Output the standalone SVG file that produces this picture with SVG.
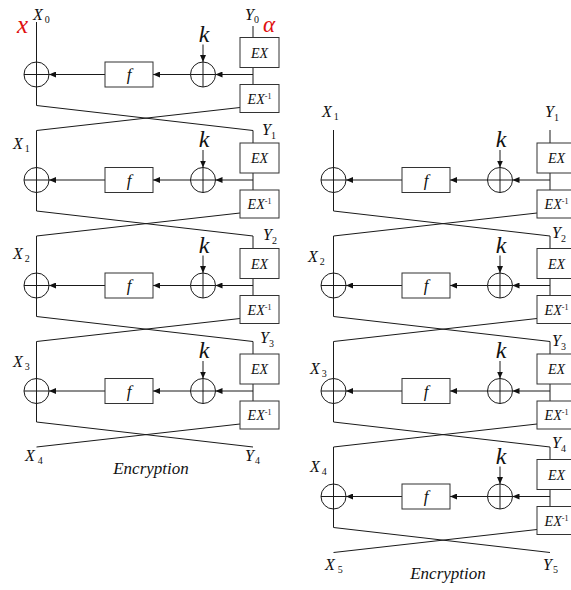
<svg xmlns="http://www.w3.org/2000/svg" width="571" height="590" viewBox="0 0 571 590">
<style>
.ln{fill:none;stroke:#1a1a1a;stroke-width:1}
.bx{fill:#fff;stroke:#333;stroke-width:1}
.xo{fill:none;stroke:#1a1a1a;stroke-width:1}
text{font-family:'Liberation Serif','Times New Roman','DejaVu Serif',serif;font-style:italic;fill:#111}
.lb{font-size:16px}
.sb{font-size:10px;font-style:normal}
.ex{font-size:14px;text-anchor:middle}
.sp{font-size:8px;font-style:normal}
.fn{font-size:17px;text-anchor:middle}
.k{font-size:24px;text-anchor:middle}
.red{fill:#e01010}
</style>
<defs>
<marker id="ah" markerUnits="userSpaceOnUse" markerWidth="7" markerHeight="6" refX="7" refY="3" orient="auto">
<path d="M0,0 L7,3 L0,6 z" fill="#111"/>
</marker>
</defs>

<g id="connectors">
<polyline class="ln" points="36.5,22 36.5,105.5 253,130.5 253,143"/>
<polyline class="ln" points="240,107.5 36.5,130.5 36.5,211 253,236 253,248.5"/>
<line class="ln" x1="253" y1="26" x2="253" y2="37.5"/>
<line class="ln" x1="253" y1="67.5" x2="253" y2="84.5"/>
<line class="ln" x1="253" y1="74.5" x2="215.5" y2="74.5" marker-end="url(#ah)"/>
<line class="ln" x1="190.5" y1="74.5" x2="153" y2="74.5" marker-end="url(#ah)"/>
<line class="ln" x1="105" y1="74.5" x2="49" y2="74.5" marker-end="url(#ah)"/>
<line class="ln" x1="203" y1="44.5" x2="203" y2="62" marker-end="url(#ah)"/>
<polyline class="ln" points="240,213 36.5,236 36.5,316.5 253,341.5 253,354"/>
<line class="ln" x1="253" y1="173" x2="253" y2="190"/>
<line class="ln" x1="253" y1="180" x2="215.5" y2="180" marker-end="url(#ah)"/>
<line class="ln" x1="190.5" y1="180" x2="153" y2="180" marker-end="url(#ah)"/>
<line class="ln" x1="105" y1="180" x2="49" y2="180" marker-end="url(#ah)"/>
<line class="ln" x1="203" y1="150" x2="203" y2="167.5" marker-end="url(#ah)"/>
<polyline class="ln" points="240,318.5 36.5,341.5 36.5,422 253,447"/>
<line class="ln" x1="253" y1="278.5" x2="253" y2="295.5"/>
<line class="ln" x1="253" y1="285.5" x2="215.5" y2="285.5" marker-end="url(#ah)"/>
<line class="ln" x1="190.5" y1="285.5" x2="153" y2="285.5" marker-end="url(#ah)"/>
<line class="ln" x1="105" y1="285.5" x2="49" y2="285.5" marker-end="url(#ah)"/>
<line class="ln" x1="203" y1="255.5" x2="203" y2="273" marker-end="url(#ah)"/>
<polyline class="ln" points="240,424 36.5,447"/>
<line class="ln" x1="253" y1="384" x2="253" y2="401"/>
<line class="ln" x1="253" y1="391" x2="215.5" y2="391" marker-end="url(#ah)"/>
<line class="ln" x1="190.5" y1="391" x2="153" y2="391" marker-end="url(#ah)"/>
<line class="ln" x1="105" y1="391" x2="49" y2="391" marker-end="url(#ah)"/>
<line class="ln" x1="203" y1="361" x2="203" y2="378.5" marker-end="url(#ah)"/>

<polyline class="ln" points="333.5,130 333.5,211 550,236 550,248.5"/>
<line class="ln" x1="550" y1="130" x2="550" y2="143"/>
<polyline class="ln" points="537,213 333.5,236 333.5,316.5 550,341.5 550,354"/>
<polyline class="ln" points="537,318.5 333.5,341.5 333.5,422 550,447 550,459.5"/>
<polyline class="ln" points="537,424 333.5,447 333.5,527.5 550,552.5"/>
<polyline class="ln" points="537,529.5 333.5,552.5"/>
<line class="ln" x1="550" y1="173" x2="550" y2="190"/>
<line class="ln" x1="550" y1="180" x2="512.5" y2="180" marker-end="url(#ah)"/>
<line class="ln" x1="487.5" y1="180" x2="450" y2="180" marker-end="url(#ah)"/>
<line class="ln" x1="402" y1="180" x2="346" y2="180" marker-end="url(#ah)"/>
<line class="ln" x1="500" y1="150" x2="500" y2="167.5" marker-end="url(#ah)"/>
<line class="ln" x1="550" y1="278.5" x2="550" y2="295.5"/>
<line class="ln" x1="550" y1="285.5" x2="512.5" y2="285.5" marker-end="url(#ah)"/>
<line class="ln" x1="487.5" y1="285.5" x2="450" y2="285.5" marker-end="url(#ah)"/>
<line class="ln" x1="402" y1="285.5" x2="346" y2="285.5" marker-end="url(#ah)"/>
<line class="ln" x1="500" y1="255.5" x2="500" y2="273" marker-end="url(#ah)"/>
<line class="ln" x1="550" y1="384" x2="550" y2="401"/>
<line class="ln" x1="550" y1="391" x2="512.5" y2="391" marker-end="url(#ah)"/>
<line class="ln" x1="487.5" y1="391" x2="450" y2="391" marker-end="url(#ah)"/>
<line class="ln" x1="402" y1="391" x2="346" y2="391" marker-end="url(#ah)"/>
<line class="ln" x1="500" y1="361" x2="500" y2="378.5" marker-end="url(#ah)"/>
<line class="ln" x1="550" y1="489.5" x2="550" y2="506.5"/>
<line class="ln" x1="550" y1="496.5" x2="512.5" y2="496.5" marker-end="url(#ah)"/>
<line class="ln" x1="487.5" y1="496.5" x2="450" y2="496.5" marker-end="url(#ah)"/>
<line class="ln" x1="402" y1="496.5" x2="346" y2="496.5" marker-end="url(#ah)"/>
<line class="ln" x1="500" y1="466.5" x2="500" y2="484" marker-end="url(#ah)"/>
</g>

<g id="L0-xor"><circle class="xo" cx="36.5" cy="74.5" r="12.5"/><line class="ln" x1="24" y1="74.5" x2="49" y2="74.5"/></g>
<g id="L0-f"><rect class="bx" x="105" y="62" width="48" height="25"/><text class="fn" x="129" y="80">f</text></g>
<g id="L0-kxor"><circle class="xo" cx="203" cy="74.5" r="12.5"/><line class="ln" x1="190.5" y1="74.5" x2="215.5" y2="74.5"/><line class="ln" x1="203" y1="62" x2="203" y2="87"/></g>
<g id="L0-k"><text class="k" x="204" y="41.5">k</text></g>
<g id="L0-ex"><rect class="bx" x="240" y="37.5" width="39" height="30"/><text class="ex" x="259.5" y="57.5">EX</text></g>
<g id="L0-exinv"><rect class="bx" x="240" y="84.5" width="39" height="28"/><text class="ex" x="259.5" y="103.5">EX<tspan class="sp" dy="-5">-1</tspan></text></g>

<g id="L1-xor"><circle class="xo" cx="36.5" cy="180" r="12.5"/><line class="ln" x1="24" y1="180" x2="49" y2="180"/></g>
<g id="L1-f"><rect class="bx" x="105" y="167.5" width="48" height="25"/><text class="fn" x="129" y="185.5">f</text></g>
<g id="L1-kxor"><circle class="xo" cx="203" cy="180" r="12.5"/><line class="ln" x1="190.5" y1="180" x2="215.5" y2="180"/><line class="ln" x1="203" y1="167.5" x2="203" y2="192.5"/></g>
<g id="L1-k"><text class="k" x="204" y="147">k</text></g>
<g id="L1-ex"><rect class="bx" x="240" y="143" width="39" height="30"/><text class="ex" x="259.5" y="163">EX</text></g>
<g id="L1-exinv"><rect class="bx" x="240" y="190" width="39" height="28"/><text class="ex" x="259.5" y="209">EX<tspan class="sp" dy="-5">-1</tspan></text></g>

<g id="L2-xor"><circle class="xo" cx="36.5" cy="285.5" r="12.5"/><line class="ln" x1="24" y1="285.5" x2="49" y2="285.5"/></g>
<g id="L2-f"><rect class="bx" x="105" y="273" width="48" height="25"/><text class="fn" x="129" y="291">f</text></g>
<g id="L2-kxor"><circle class="xo" cx="203" cy="285.5" r="12.5"/><line class="ln" x1="190.5" y1="285.5" x2="215.5" y2="285.5"/><line class="ln" x1="203" y1="273" x2="203" y2="298"/></g>
<g id="L2-k"><text class="k" x="204" y="252.5">k</text></g>
<g id="L2-ex"><rect class="bx" x="240" y="248.5" width="39" height="30"/><text class="ex" x="259.5" y="268.5">EX</text></g>
<g id="L2-exinv"><rect class="bx" x="240" y="295.5" width="39" height="28"/><text class="ex" x="259.5" y="314.5">EX<tspan class="sp" dy="-5">-1</tspan></text></g>

<g id="L3-xor"><circle class="xo" cx="36.5" cy="391" r="12.5"/><line class="ln" x1="24" y1="391" x2="49" y2="391"/></g>
<g id="L3-f"><rect class="bx" x="105" y="378.5" width="48" height="25"/><text class="fn" x="129" y="396.5">f</text></g>
<g id="L3-kxor"><circle class="xo" cx="203" cy="391" r="12.5"/><line class="ln" x1="190.5" y1="391" x2="215.5" y2="391"/><line class="ln" x1="203" y1="378.5" x2="203" y2="403.5"/></g>
<g id="L3-k"><text class="k" x="204" y="358">k</text></g>
<g id="L3-ex"><rect class="bx" x="240" y="354" width="39" height="30"/><text class="ex" x="259.5" y="374">EX</text></g>
<g id="L3-exinv"><rect class="bx" x="240" y="401" width="39" height="28"/><text class="ex" x="259.5" y="420">EX<tspan class="sp" dy="-5">-1</tspan></text></g>

<g id="R1-xor"><circle class="xo" cx="333.5" cy="180" r="12.5"/><line class="ln" x1="321" y1="180" x2="346" y2="180"/></g>
<g id="R1-f"><rect class="bx" x="402" y="167.5" width="48" height="25"/><text class="fn" x="426" y="185.5">f</text></g>
<g id="R1-kxor"><circle class="xo" cx="500" cy="180" r="12.5"/><line class="ln" x1="487.5" y1="180" x2="512.5" y2="180"/><line class="ln" x1="500" y1="167.5" x2="500" y2="192.5"/></g>
<g id="R1-k"><text class="k" x="501" y="147">k</text></g>
<g id="R1-ex"><rect class="bx" x="537" y="143" width="39" height="30"/><text class="ex" x="556.5" y="163">EX</text></g>
<g id="R1-exinv"><rect class="bx" x="537" y="190" width="39" height="28"/><text class="ex" x="556.5" y="209">EX<tspan class="sp" dy="-5">-1</tspan></text></g>

<g id="R2-xor"><circle class="xo" cx="333.5" cy="285.5" r="12.5"/><line class="ln" x1="321" y1="285.5" x2="346" y2="285.5"/></g>
<g id="R2-f"><rect class="bx" x="402" y="273" width="48" height="25"/><text class="fn" x="426" y="291">f</text></g>
<g id="R2-kxor"><circle class="xo" cx="500" cy="285.5" r="12.5"/><line class="ln" x1="487.5" y1="285.5" x2="512.5" y2="285.5"/><line class="ln" x1="500" y1="273" x2="500" y2="298"/></g>
<g id="R2-k"><text class="k" x="501" y="252.5">k</text></g>
<g id="R2-ex"><rect class="bx" x="537" y="248.5" width="39" height="30"/><text class="ex" x="556.5" y="268.5">EX</text></g>
<g id="R2-exinv"><rect class="bx" x="537" y="295.5" width="39" height="28"/><text class="ex" x="556.5" y="314.5">EX<tspan class="sp" dy="-5">-1</tspan></text></g>

<g id="R3-xor"><circle class="xo" cx="333.5" cy="391" r="12.5"/><line class="ln" x1="321" y1="391" x2="346" y2="391"/></g>
<g id="R3-f"><rect class="bx" x="402" y="378.5" width="48" height="25"/><text class="fn" x="426" y="396.5">f</text></g>
<g id="R3-kxor"><circle class="xo" cx="500" cy="391" r="12.5"/><line class="ln" x1="487.5" y1="391" x2="512.5" y2="391"/><line class="ln" x1="500" y1="378.5" x2="500" y2="403.5"/></g>
<g id="R3-k"><text class="k" x="501" y="358">k</text></g>
<g id="R3-ex"><rect class="bx" x="537" y="354" width="39" height="30"/><text class="ex" x="556.5" y="374">EX</text></g>
<g id="R3-exinv"><rect class="bx" x="537" y="401" width="39" height="28"/><text class="ex" x="556.5" y="420">EX<tspan class="sp" dy="-5">-1</tspan></text></g>

<g id="R4-xor"><circle class="xo" cx="333.5" cy="496.5" r="12.5"/><line class="ln" x1="321" y1="496.5" x2="346" y2="496.5"/></g>
<g id="R4-f"><rect class="bx" x="402" y="484" width="48" height="25"/><text class="fn" x="426" y="502">f</text></g>
<g id="R4-kxor"><circle class="xo" cx="500" cy="496.5" r="12.5"/><line class="ln" x1="487.5" y1="496.5" x2="512.5" y2="496.5"/><line class="ln" x1="500" y1="484" x2="500" y2="509"/></g>
<g id="R4-k"><text class="k" x="501" y="463.5">k</text></g>
<g id="R4-ex"><rect class="bx" x="537" y="459.5" width="39" height="30"/><text class="ex" x="556.5" y="479.5">EX</text></g>
<g id="R4-exinv"><rect class="bx" x="537" y="506.5" width="39" height="28"/><text class="ex" x="556.5" y="525.5">EX<tspan class="sp" dy="-5">-1</tspan></text></g>

<g id="labels-left">
<text class="red" x="17" y="33" font-size="25">x</text>
<text class="red" x="263" y="32" font-size="23">α</text>
<text class="lb" x="33" y="20">X<tspan class="sb" dx="2" dy="3">0</tspan></text>
<text class="lb" x="245" y="20">Y<tspan class="sb" dx="0" dy="3">0</tspan></text>
<text class="lb" x="13" y="149">X<tspan class="sb" dx="2" dy="3">1</tspan></text>
<text class="lb" x="262" y="135">Y<tspan class="sb" dx="0" dy="4">1</tspan></text>
<text class="lb" x="13" y="259">X<tspan class="sb" dx="2" dy="3">2</tspan></text>
<text class="lb" x="263" y="240">Y<tspan class="sb" dx="0" dy="4">2</tspan></text>
<text class="lb" x="13" y="367">X<tspan class="sb" dx="2" dy="3">3</tspan></text>
<text class="lb" x="260" y="343">Y<tspan class="sb" dx="0" dy="4">3</tspan></text>
<text class="lb" x="25" y="461">X<tspan class="sb" dx="3" dy="3">4</tspan></text>
<text class="lb" x="245" y="461">Y<tspan class="sb" dx="1" dy="3">4</tspan></text>
<text x="151" y="474" font-size="17" text-anchor="middle">Encryption</text>
</g>
<g id="labels-right">
<text class="lb" x="322" y="117">X<tspan class="sb" dx="2" dy="3">1</tspan></text>
<text class="lb" x="545" y="117">Y<tspan class="sb" dx="0" dy="4">1</tspan></text>
<text class="lb" x="308" y="262">X<tspan class="sb" dx="2" dy="3">2</tspan></text>
<text class="lb" x="552" y="238">Y<tspan class="sb" dx="0" dy="4">2</tspan></text>
<text class="lb" x="310" y="374">X<tspan class="sb" dx="2" dy="3">3</tspan></text>
<text class="lb" x="552" y="346">Y<tspan class="sb" dx="0" dy="4">3</tspan></text>
<text class="lb" x="310" y="472">X<tspan class="sb" dx="2" dy="3">4</tspan></text>
<text class="lb" x="552" y="448">Y<tspan class="sb" dx="0" dy="4">4</tspan></text>
<text class="lb" x="325" y="570">X<tspan class="sb" dx="3" dy="3">5</tspan></text>
<text class="lb" x="543" y="570">Y<tspan class="sb" dx="1" dy="3">5</tspan></text>
<text x="448" y="579" font-size="17" text-anchor="middle">Encryption</text>
</g>
</svg>
